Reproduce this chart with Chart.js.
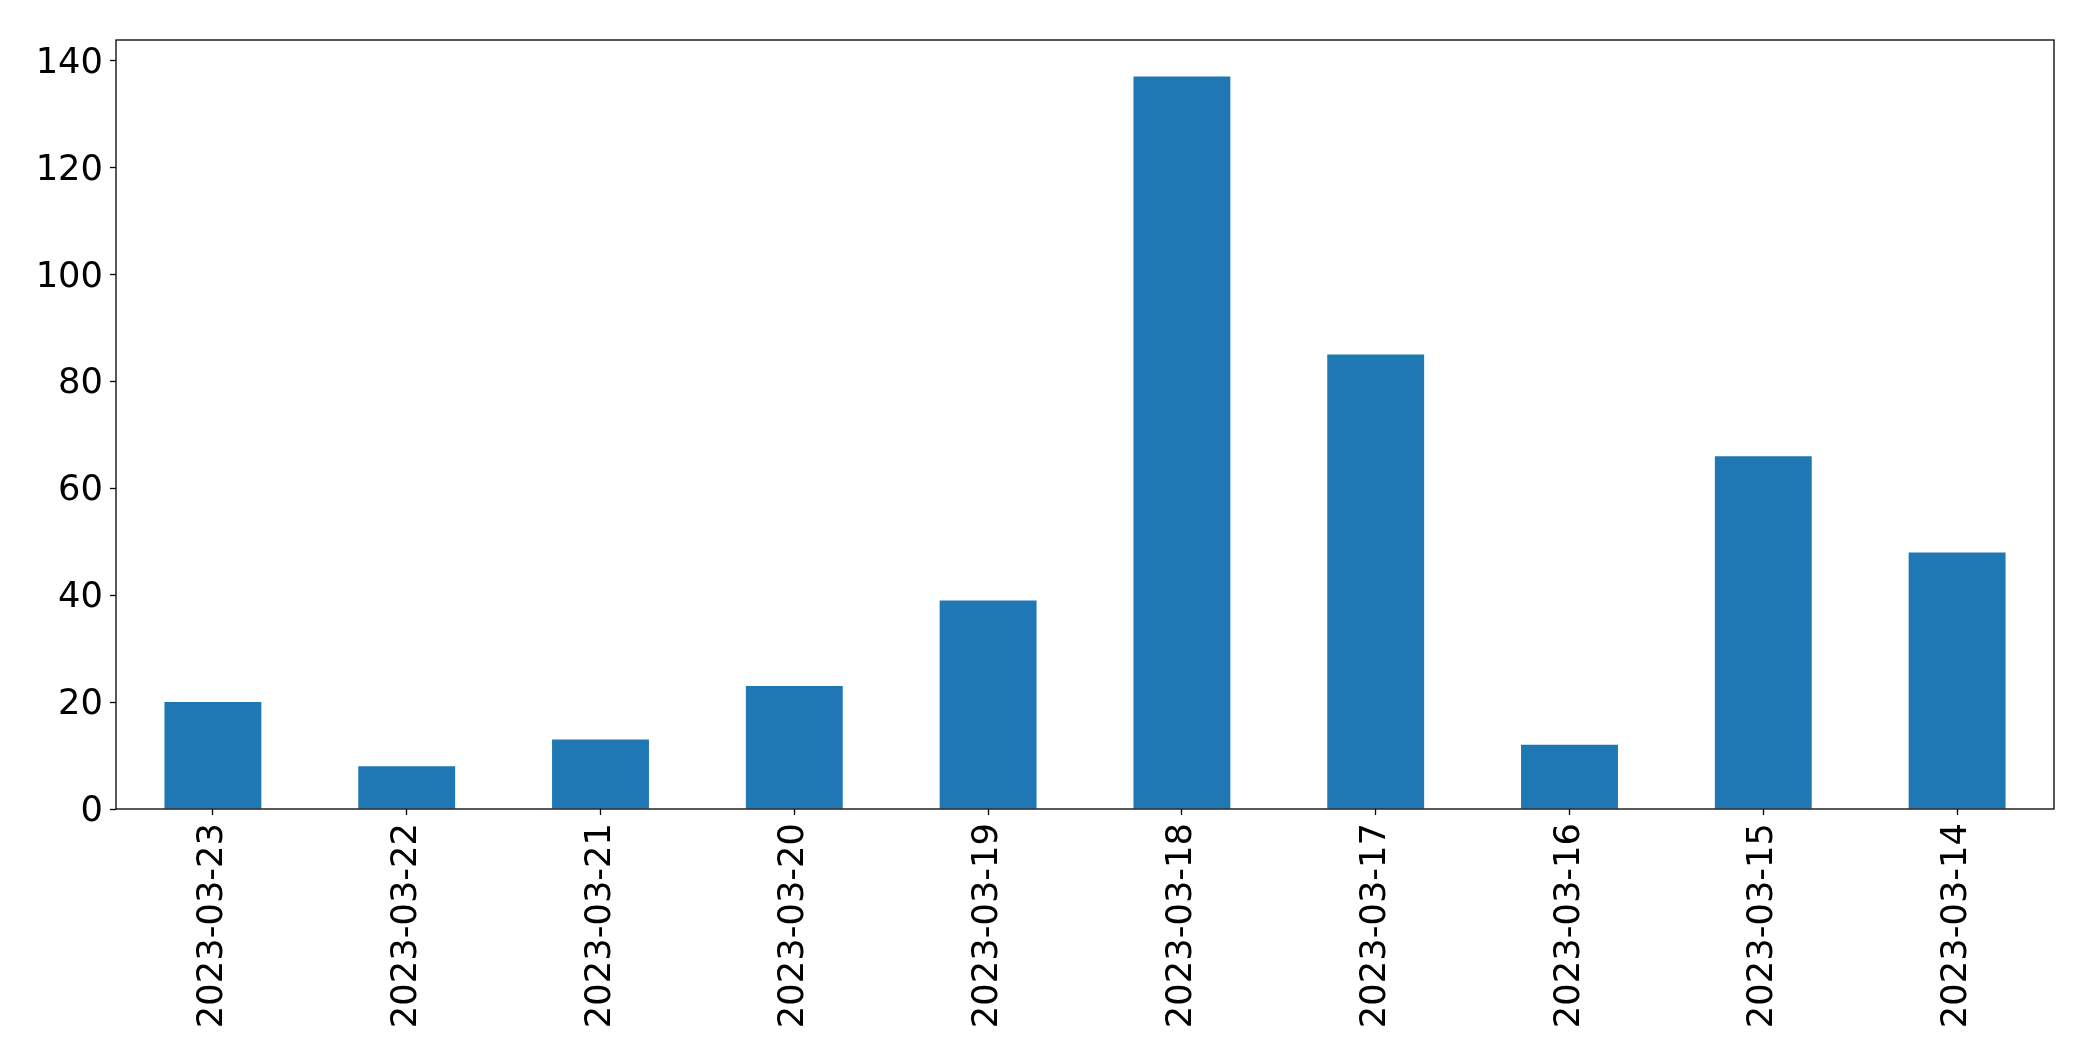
<!DOCTYPE html>
<html>
<head>
<meta charset="utf-8">
<script src="https://cdn.jsdelivr.net/npm/chart.js@4"></script>
<style>
  html, body { margin: 0; padding: 0; background: #fff; }
  #wrap { width: 2093px; height: 1061px; }
</style>
</head>
<body>
<div id="wrap"><canvas id="barChart" width="2093" height="1061"></canvas></div>
<script>
// --- data ---
const dates = ['2023-03-23', '2023-03-22', '2023-03-21', '2023-03-20', '2023-03-19',
               '2023-03-18', '2023-03-17', '2023-03-16', '2023-03-15', '2023-03-14'];
const counts = [20, 8, 13, 23, 39, 137, 85, 12, 66, 48];
const yTicks = [0, 20, 40, 60, 80, 100, 120, 140];

Chart.defaults.font.family = "'DejaVu Sans', sans-serif";
Chart.defaults.color = '#000';

// box around the plot area like matplotlib's spines
const frame = {
    id: 'frame',
    afterDraw(chart) {
        const { ctx, chartArea: a } = chart;
        ctx.save();
        ctx.strokeStyle = '#000';
        ctx.lineWidth = 1.3;
        ctx.strokeRect(a.left, a.top, a.right - a.left, a.bottom - a.top);
        ctx.restore();
    }
};

new Chart(document.getElementById('barChart'), {
    type: 'bar',
    data: {
        labels: dates,
        datasets: [{
            data: counts,
            backgroundColor: '#1f77b4',
            categoryPercentage: 1.0,
            barPercentage: 0.5
        }]
    },
    options: {
        responsive: false,
        animation: false,
        layout: { padding: { top: 40, right: 39, left: 0, bottom: 0 } },
        plugins: { legend: { display: false }, tooltip: { enabled: false } },
        scales: {
            x: {
                offset: true,
                grid: { display: true, drawOnChartArea: false, drawTicks: true, tickLength: 6,
                        tickWidth: 1.3, color: '#000', offset: false },
                border: { display: false },
                ticks: { minRotation: 90, maxRotation: 90, padding: 8,
                         font: { size: 35.3 } },
                afterFit: s => { s.height = 252; }
            },
            y: {
                min: 0,
                max: Math.max(...counts) * 1.05,
                grid: { display: true, drawOnChartArea: false, drawTicks: true, tickLength: 6,
                        tickWidth: 1.3, color: '#000' },
                border: { display: false },
                afterBuildTicks: s => { s.ticks = yTicks.map(v => ({ value: v })); },
                ticks: { padding: 7, labelOffset: 3, font: { size: 35.3 } },
                afterFit: s => { s.width = 116; }
            }
        }
    },
    plugins: [frame]
});
</script>
</body>
</html>
